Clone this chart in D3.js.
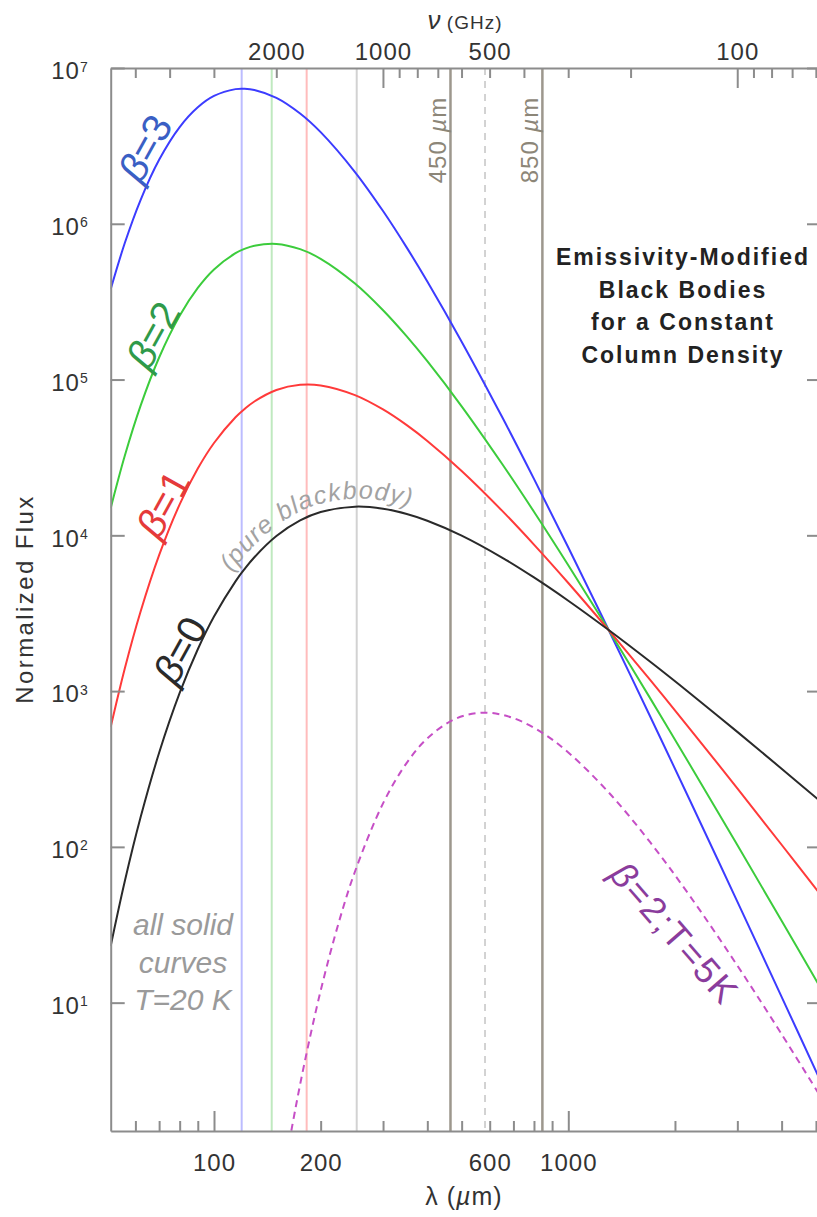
<!DOCTYPE html>
<html><head><meta charset="utf-8">
<script src="https://cdn.jsdelivr.net/npm/d3@7"></script>
<style>
html,body{margin:0;padding:0;background:#fff;}
svg{display:block;}
text{font-family:"Liberation Sans",Arial,Helvetica,sans-serif;}
</style></head><body>
<svg id="chart" width="817" height="1217"></svg>
<script>
// ---------------- data ----------------
const wavelengths = [51.1,56,62,70,80,90,100,115,122,130,150,175,200,250,300,350,400,500,650,800,1000,1300,1700,2200,3000,4000,5167];
const fluxBeta0 = [23.09,60.13,153.6,401.8,972.7,1856,3010,5064,6078,7231,9888,12455,14107,15282,14831,13716,12415,9964,7203,5366,3803,2466,1547,972.4,547.3,317.6,194.3];
const fluxBeta1 = [587.4,1396,3220,7462,15807,26808,39137,57251,64773,72308,85693,92524,91697,79468,64269,50946,40349,25906,14407,8720,4944,2466,1183,574.6,237.2,103.2,48.89];
const fluxBeta2 = [14944,32403,67515,138580,256860,387220,508780,647220,690220,723080,742690,687330,596040,413240,278500,189230,131130,67356,28813,14170,6427,2466,904.9,339.5,102.8,33.55,12.30];
const fluxBeta3 = [380170,752200,1415660,2573600,4174000,5593000,6614000,7316800,7355000,7230800,6436700,5106000,3874300,2148900,1206900,702850,426190,175130,57627,23026,8355,2466,692.0,200.6,44.54,10.90,3.095];
const coldWavelengths = [163,170,180,200,225,250,300,350,400,480,580,700,850,1000,1300,1700,2200,3000,4000,5167];
const fluxCold = [1.266,2.123,4.084,11.93,32.75,69.49,190.2,346.4,496.8,663.4,727.3,671.2,534.7,403.6,223.7,107.5,48.66,17.30,6.276,2.466];
const peakWavelengths = [119.7,145.5,182.6,252.8];
const bandWavelengths = [465,845];
const bandLabels = ["450","850"];
const coldPeakWavelength = 582;
const lambdaMinorTicks = [60,70,80,90,200,300,400,500,600,700,800,900,2000,3000,4000,5000];
const lambdaMajorTicks = [100,1000];
const lambdaLabels = [100,200,600,1000];
const nuMinorTicks = [60,70,80,90,200,300,400,500,600,700,800,900,2000,3000,4000,5000];
const nuMajorTicks = [100,1000];
const nuLabels = [2000,1000,500,100];
const fluxTicks = [1e1,1e2,1e3,1e4,1e5,1e6,1e7];
const titleLines = ["Emissivity-Modified","Black Bodies","for a Constant","Column Density"];
const noteLines = ["all solid","curves","T=20 K"];

// ---------------- layout ----------------
const L = 110.7, R = 821, T = 68, B = 1131;
const C_LIGHT = 299792.458;
const svg = d3.select("#chart");
const x = d3.scaleLog().domain([51.1, 5167]).range([L, R]);
const nu = d3.scaleLog().domain([C_LIGHT/51.1, C_LIGHT/5167]).range([L, R]);
const y = d3.scaleLog().domain([1.5, 1e7]).range([B, T]);
const AX = "#8c8c8c";

svg.append("defs").append("clipPath").attr("id","clip")
  .append("rect").attr("x",L).attr("y",T).attr("width",R-L).attr("height",B-T);

// vertical reference lines
const vl = svg.append("g").attr("clip-path","url(#clip)");
const peakColors = ["#bcbcff","#bfe9bf","#ffbcbc","#d2d2d2"];
vl.selectAll("line.peak").data(peakWavelengths).join("line")
  .attr("x1",d=>x(d)).attr("x2",d=>x(d)).attr("y1",T).attr("y2",B)
  .attr("stroke",(d,i)=>peakColors[i]).attr("stroke-width",2);
vl.append("line").attr("x1",x(coldPeakWavelength)).attr("x2",x(coldPeakWavelength))
  .attr("y1",T).attr("y2",B).attr("stroke","#c4c4c4").attr("stroke-width",1.5)
  .attr("stroke-dasharray","7,6");
vl.selectAll("line.band").data(bandWavelengths).join("line")
  .attr("x1",d=>x(d)).attr("x2",d=>x(d)).attr("y1",T).attr("y2",B)
  .attr("stroke","#9d978d").attr("stroke-width",2.5);

// curves
const line = d3.line().x(d=>x(d[0])).y(d=>y(d[1])).curve(d3.curveCatmullRom.alpha(0.5));
const cg = svg.append("g").attr("clip-path","url(#clip)");
const series = [
  {id:"bb3", v:fluxBeta3, c:"#3c3cff"},
  {id:"bb2", v:fluxBeta2, c:"#3ccc3c"},
  {id:"bb1", v:fluxBeta1, c:"#ff3a3a"},
  {id:"bb0", v:fluxBeta0, c:"#2a2a2a"}
];
series.forEach(s=>{
  cg.append("path").attr("id",s.id)
    .attr("d", line(wavelengths.map((w,i)=>[w,s.v[i]])))
    .attr("fill","none").attr("stroke",s.c).attr("stroke-width",2);
});
cg.append("path").attr("d", line(coldWavelengths.map((w,i)=>[w,fluxCold[i]])))
  .attr("fill","none").attr("stroke","#c64fc6").attr("stroke-width",2)
  .attr("stroke-dasharray","7,5");

// axes
function styleAxis(g){
  g.selectAll("path.domain").attr("stroke",AX).attr("stroke-width",2);
  g.selectAll(".tick line").attr("stroke",AX).attr("stroke-width",2);
  g.selectAll(".tick text").attr("fill","#333").attr("font-size",24)
    .attr("font-family","'Liberation Sans',Arial,sans-serif").attr("letter-spacing",1);
}
// bottom
svg.append("g").attr("transform",`translate(0,${B})`)
  .call(d3.axisBottom(x).tickValues(lambdaMinorTicks).tickSizeInner(-10).tickSizeOuter(0).tickFormat(""))
  .call(styleAxis);
svg.append("g").attr("transform",`translate(0,${B})`)
  .call(d3.axisBottom(x).tickValues(lambdaMajorTicks).tickSizeInner(-20).tickSizeOuter(0).tickFormat(""))
  .call(styleAxis).call(g=>g.select(".domain").remove());
svg.append("g").attr("transform",`translate(0,${B})`)
  .call(d3.axisBottom(x).tickValues(lambdaLabels).tickSize(0).tickPadding(23).tickFormat(d3.format("d")))
  .call(styleAxis).call(g=>g.select(".domain").remove());
// top
svg.append("g").attr("transform",`translate(0,${T})`)
  .call(d3.axisTop(nu).tickValues(nuMinorTicks).tickSizeInner(-10).tickSizeOuter(0).tickFormat(""))
  .call(styleAxis);
svg.append("g").attr("transform",`translate(0,${T})`)
  .call(d3.axisTop(nu).tickValues(nuMajorTicks).tickSizeInner(-20).tickSizeOuter(0).tickFormat(""))
  .call(styleAxis).call(g=>g.select(".domain").remove());
svg.append("g").attr("transform",`translate(0,${T})`)
  .call(d3.axisTop(nu).tickValues(nuLabels).tickSize(0).tickPadding(8).tickFormat(d3.format("d")))
  .call(styleAxis).call(g=>g.select(".domain").remove());
// left
svg.append("g").attr("transform",`translate(${L},0)`)
  .call(d3.axisLeft(y).tickValues(fluxTicks).tickSizeInner(-14).tickSizeOuter(0).tickPadding(22).tickFormat(""))
  .call(styleAxis)
  .call(g=>g.selectAll(".tick text").attr("dy","0.45em").each(function(d){
      const t = d3.select(this);
      t.append("tspan").text("10");
      t.append("tspan").attr("dy","-0.55em").attr("font-size",14).text(Math.round(Math.log10(d)));
  }));
// right
svg.append("g").attr("transform",`translate(${R},0)`)
  .call(d3.axisRight(y).tickValues(fluxTicks).tickSizeInner(-14).tickSizeOuter(0).tickFormat(""))
  .call(styleAxis);

// axis titles
const yl = svg.append("text").attr("transform","translate(33,599) rotate(-90)")
  .attr("text-anchor","middle").attr("font-size",24).attr("letter-spacing",2.4).attr("fill","#333");
yl.text("Normalized Flux");
const tl = svg.append("text").attr("x",465).attr("y",29).attr("text-anchor","middle").attr("fill","#333");
tl.append("tspan").attr("font-size",26).attr("font-style","italic").text("ν");
tl.append("tspan").attr("font-size",19).attr("letter-spacing",1).text(" (GHz)");
const bl = svg.append("text").attr("x",464).attr("y",1205).attr("text-anchor","middle").attr("fill","#333").attr("font-size",25).attr("letter-spacing",1);
bl.append("tspan").text("λ (");
bl.append("tspan").attr("font-style","italic").text("µ");
bl.append("tspan").text("m)");

// band labels
bandWavelengths.forEach((w,i)=>{
  const t = svg.append("text").attr("transform",`translate(${x(w)-4},140) rotate(-90)`)
    .attr("text-anchor","middle").attr("font-size",24).attr("fill","#8c8678").attr("letter-spacing",1);
  t.append("tspan").text(bandLabels[i]+" ");
  t.append("tspan").attr("font-style","italic").text("µ");
  t.append("tspan").text("m");
});

// title
svg.append("g").selectAll("text").data(titleLines).join("text")
  .attr("x",683).attr("y",(d,i)=>265+i*32.6).attr("text-anchor","middle")
  .attr("font-size",23).attr("font-weight","bold").attr("letter-spacing",2).attr("fill","#222")
  .text(d=>d);

// note
svg.append("g").selectAll("text").data(noteLines).join("text")
  .attr("x",183).attr("y",(d,i)=>935+i*37.5).attr("text-anchor","middle")
  .attr("font-size",30).attr("font-style","italic").attr("fill","#9a9a9a")
  .text(d=>d);

// beta labels
const betaLabels = [
  {txt:"3", cx:145, cy:148, col:"#3a5fc4"},
  {txt:"2", cx:153, cy:335, col:"#2f9a4a"},
  {txt:"1", cx:163, cy:504, col:"#e53a3a"},
  {txt:"0", cx:180, cy:650, col:"#2a2a2a"}
];
betaLabels.forEach(b=>{
  const t = svg.append("text").attr("transform",`translate(${b.cx},${b.cy}) rotate(-61)`)
    .attr("text-anchor","middle").attr("dominant-baseline","central")
    .attr("font-size",40).attr("fill",b.col);
  t.append("tspan").attr("font-style","italic").text("β");
  t.append("tspan").text("="+b.txt);
});
const ct = svg.append("text").attr("transform","translate(675,933) rotate(49)")
  .attr("text-anchor","middle").attr("dominant-baseline","central")
  .attr("font-size",36).attr("letter-spacing",2).attr("fill","#8a3c9c");
ct.append("tspan").attr("font-style","italic").text("β");
ct.append("tspan").text("=2;T=5K");

// (pure blackbody) along the beta=0 curve
const p0 = document.getElementById("bb0");
const total = p0.getTotalLength();
let off = 0;
for (let s=0; s<total; s+=0.5){ if (p0.getPointAtLength(s).x >= 238){ off = s; break; } }
svg.append("text").attr("font-size",25).attr("font-style","italic").attr("fill","#a2a2a2")
  .attr("letter-spacing",0.6).attr("dy",-8)
  .append("textPath").attr("href","#bb0").attr("startOffset",off).text("(pure blackbody)");
</script>
</body></html>
